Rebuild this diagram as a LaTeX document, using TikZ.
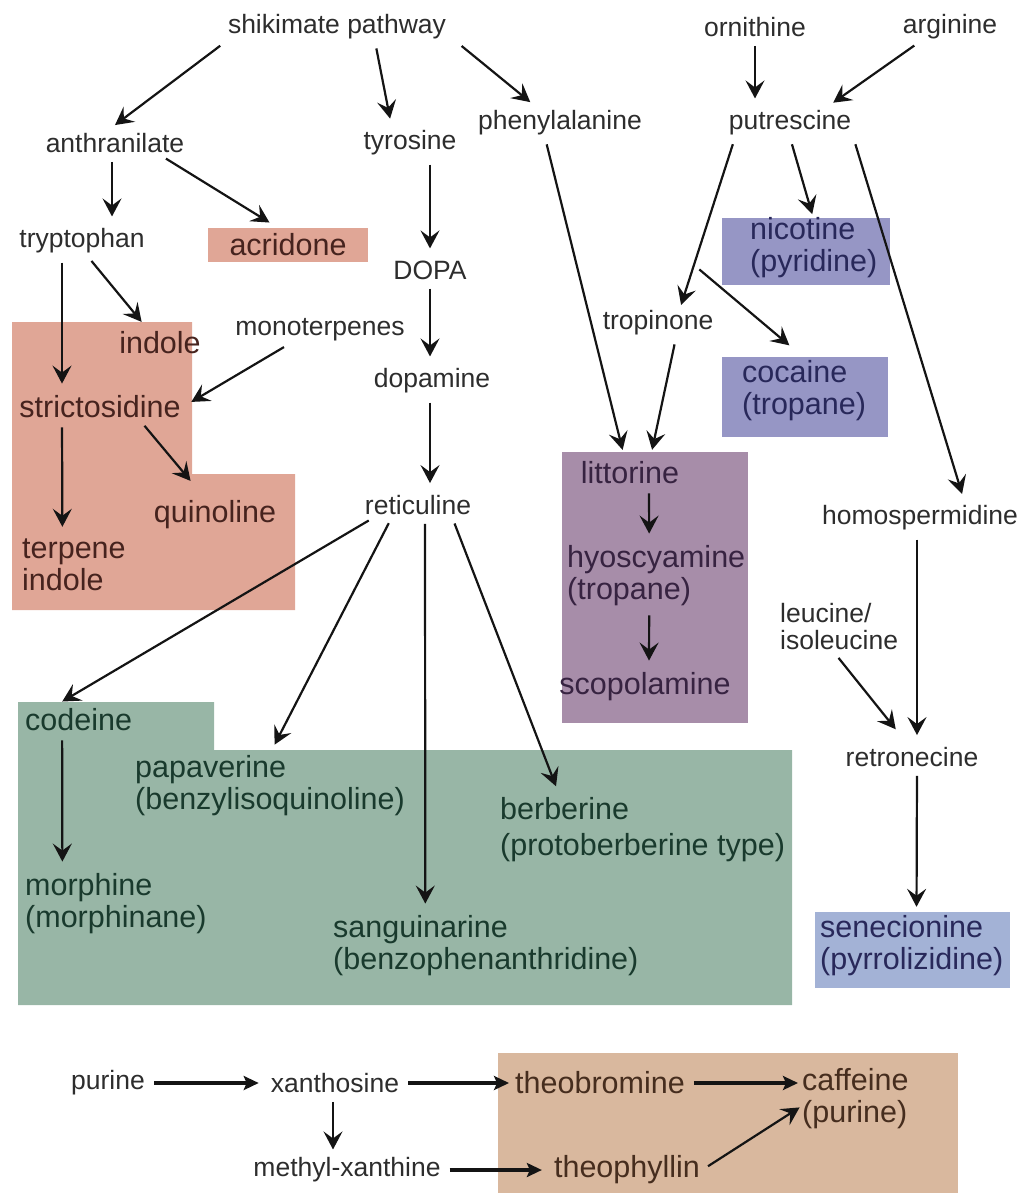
\documentclass[tikz,border=0pt]{standalone}
\usepackage{fontspec}
\setmainfont{Liberation Sans}
\usetikzlibrary{arrows.meta}

\definecolor{pinkbg}{RGB}{224,166,150}
\definecolor{greenbg}{RGB}{152,182,166}
\definecolor{purplebg}{RGB}{167,141,169}
\definecolor{violetbg}{RGB}{150,150,197}
\definecolor{bluebg}{RGB}{163,178,214}
\definecolor{tanbg}{RGB}{217,184,158}
\definecolor{txt}{RGB}{45,45,45}
\definecolor{pinktxt}{RGB}{70,35,30}
\definecolor{greentxt}{RGB}{25,58,45}
\definecolor{purpletxt}{RGB}{55,35,65}
\definecolor{violettxt}{RGB}{40,40,90}
\definecolor{tantxt}{RGB}{70,45,30}

\begin{document}
\begin{tikzpicture}[x=1pt,y=-1pt,
  >={Stealth[length=18pt,width=19pt,inset=7pt]},
  lbl/.style={inner sep=2pt, text=txt, font=\fontsize{26.5}{27}\selectfont},
  big/.style={inner sep=2pt, text=txt, font=\fontsize{30.5}{32}\selectfont},
  arr/.style={->, draw={rgb,255:red,20;green,20;blue,20}, line width=2.2pt, shorten <=7pt, shorten >=10pt},
  fat/.style={arr, -{Stealth[length=15pt,width=14pt,inset=3pt]}, line width=3.2pt},
  bgbox/.style={draw=none, inner sep=0pt}
]

\def\W{1023}
\def\H{1193}
\useasboundingbox (0,0) rectangle (\W,\H);
%        \draw[style=help lines, step=50] (0,0) grid (\W,\H);

% coloured groups
\fill[pinkbg] (12,322) -- (192,322) -- (192,474) -- (295,474) -- (295,610) -- (12,610) -- cycle;
\fill[purplebg] (562,452) rectangle (748,723);
\node[bgbox, fill=violetbg, minimum width=168pt, minimum height=67pt] (nicbox) at (806,251.5) {};
\node[bgbox, fill=violetbg, minimum width=166pt, minimum height=80pt] (cocbox) at (805,397) {};
\node[bgbox, fill=bluebg, minimum width=195pt, minimum height=76pt] (senebox) at (912.5,950) {};
\fill[greenbg] (18,702) -- (214,702) -- (214,750) -- (792,750) -- (792,1005) -- (18,1005) -- cycle;
\fill[tanbg] (498,1053) rectangle (958,\H);

\node[lbl] (shik) at (337,27) {shikimate pathway};
\node[lbl] (orn) at (755,27) {ornithine};
\node[lbl] (arg) at (950,27) {arginine};
\node[lbl] (anth) at (115,143) {anthranilate};
\node[lbl] (tyr) at (410,143) {tyrosine};
\node[lbl] (phe) at (560,123) {phenylalanine};
\node[lbl] (put) at (790,123) {putrescine};
\node[lbl] (tryp) at (82,241) {tryptophan};
\node[big, text=pinktxt, fill=pinkbg, minimum width=160pt, minimum height=34pt] (acr) at (288,245) {acridone};
\node[lbl] (dopa) at (430,270) {DOPA};
\node[big, text=pinktxt] (indole) at (160,343) {indole};
\node[lbl] (mono) at (320,330) {monoterpenes};
\node[lbl] (dopam) at (432,381) {dopamine};
\node[big, text=pinktxt] (strict) at (100,407) {strictosidine};
\node[big, text=pinktxt] (quin) at (215,515) {quinoline};
\node[big, text=pinktxt, anchor=west, align=left] (terp) at (20,565) {terpene\\indole};
\node[lbl] (ret) at (418,505) {reticuline};
\node[lbl] (trop) at (658,323) {tropinone};
\node[big, text=violettxt, anchor=west, align=left] (nic) at (748,248) {nicotine\\(pyridine)};
\node[big, text=violettxt, anchor=west, align=left] (coc) at (740,391) {cocaine\\(tropane)};
\node[big, text=purpletxt] (litt) at (630,473) {littorine};
\node[big, text=purpletxt, anchor=west, align=left] (hyos) at (565,576) {hyoscyamine\\(tropane)};
\node[big, text=purpletxt] (scop) at (645,687) {scopolamine};
\node[lbl] (homo) at (920,518) {homospermidine};
\node[lbl, anchor=west, align=left] (leu) at (778,627) {leucine/\\isoleucine};
\node[lbl] (retr) at (912,757) {retronecine};
\node[big, text=violettxt, anchor=west, align=left] (sene) at (818,946) {senecionine\\(pyrrolizidine)};
\node[big, text=greentxt, anchor=west] (cod) at (23,720) {codeine};
\node[big, text=greentxt, anchor=west, align=left] (morph) at (23,904) {morphine\\(morphinane)};
\node[big, text=greentxt, anchor=west, align=left] (papav) at (133,786) {papaverine\\(benzylisoquinoline)};
\node[big, text=greentxt, anchor=west, align=left] (berb) at (498,830) {berberine\\[4pt](protoberberine type)};
\node[big, text=greentxt, anchor=west, align=left] (sang) at (331,946) {sanguinarine\\(benzophenanthridine)};
\node[lbl] (pur) at (108,1083) {purine};
\node[lbl] (xan) at (335,1083) {xanthosine};
\node[big, text=tantxt] (theob) at (600,1083) {theobromine};
\node[big, text=tantxt, anchor=west, align=left] (caff) at (800,1099) {caffeine\\(purine)};
\node[lbl] (meth) at (347,1170) {methyl-xanthine};
\node[big, text=tantxt] (theoph) at (627,1170) {theophyllin};

% shikimate branch
\draw[arr] (shik.south west) -- ([xshift=-8pt]anth.north);
\draw[arr] ([xshift=38pt]shik.south) -- ([xshift=-18pt]tyr.north);
\draw[arr] ([xshift=8pt]shik.south east) -- ([xshift=-22pt]phe.north);
\draw[arr] ([xshift=-3pt]anth.south) -- ([xshift=30pt]tryp.north);
\draw[arr] ([xshift=45pt]anth.south) -- ([xshift=-10pt]acr.north);
\draw[arr] ([xshift=5pt]tryp.south) -- ([xshift=-12pt]indole.north);
\draw[arr] ([xshift=-20pt]tryp.south) -- ([xshift=-38pt]strict.north);
\draw[arr] ([xshift=-30pt]mono.south) -- (strict.east);
\draw[arr] ([xshift=-38pt]strict.south) -- ([xshift=-11.5pt]terp.north);
\draw[arr] ([xshift=40pt]strict.south) -- ([xshift=-18pt,yshift=10pt]quin.north);
\draw[arr] ([xshift=20pt]tyr.south) -- (dopa.north);
\draw[arr] (dopa.south) -- ([xshift=-2pt]dopam.north);
\draw[arr] ([xshift=-2pt]dopam.south) -- ([xshift=12pt]ret.north);
\draw[arr] ([xshift=12pt]ret.south west) -- ([xshift=-25pt]cod.north);
\draw[arr] ([xshift=-26pt]ret.south) -- (papav.north);
\draw[arr] ([xshift=7pt]ret.south) -- ([xshift=-60.5pt]sang.north);
\draw[arr] ([xshift=34pt]ret.south) -- ([xshift=-83pt]berb.north);
\draw[arr] ([xshift=-16.5pt]cod.south) -- ([xshift=-53.5pt]morph.north);
\draw[arr] ([xshift=-15pt]phe.south) -- ([xshift=-5pt]litt.north);

% ornithine branch
\draw[arr] (orn.south) -- ([xshift=-35pt]put.north);
\draw[arr] ([xshift=-30pt]arg.south) -- ([xshift=35pt]put.north);
\draw[arr] ([xshift=-55pt]put.south) -- coordinate[pos=0.72] (fork) ([xshift=20pt,yshift=-6pt]trop.north);
\draw[arr] (put.south) -- ([xshift=9pt,yshift=-6pt]nicbox.north);
\draw[arr] (fork) -- ([xshift=-8pt,yshift=5pt]cocbox.north);
\draw[arr] (put.south east) -- ([xshift=45pt]homo.north);
\draw[arr] ([xshift=18pt]trop.south) -- ([xshift=20pt]litt.north);
\draw[arr] ([xshift=19pt]litt.south) -- ([xshift=-7pt]hyos.north);
\draw[arr] ([xshift=-7pt]hyos.south) -- ([xshift=4pt]scop.north);
\draw[arr] ([xshift=-3pt]homo.south) -- ([xshift=5pt]retr.north);
\draw[arr] ([xshift=-5pt]leu.south) -- ([xshift=-10pt,yshift=8pt]retr.north);
\draw[arr] ([xshift=5pt]retr.south) -- ([xshift=4pt,yshift=-5pt]senebox.north);

% purine branch
\draw[fat] (pur.east) -- (xan.west);
\draw[fat] (xan.east) -- ([xshift=6pt]theob.west);
\draw[fat] (theob.east) -- ([xshift=8pt,yshift=16pt]caff.west);
\draw[arr] ([xshift=-2pt]xan.south) -- ([xshift=-14pt,yshift=-4pt]meth.north);
\draw[fat] (meth.east) -- (theoph.west);
\draw[arr] (theoph.east) -- ([xshift=8pt,yshift=-3pt]caff.west);

\end{tikzpicture}
\end{document}
